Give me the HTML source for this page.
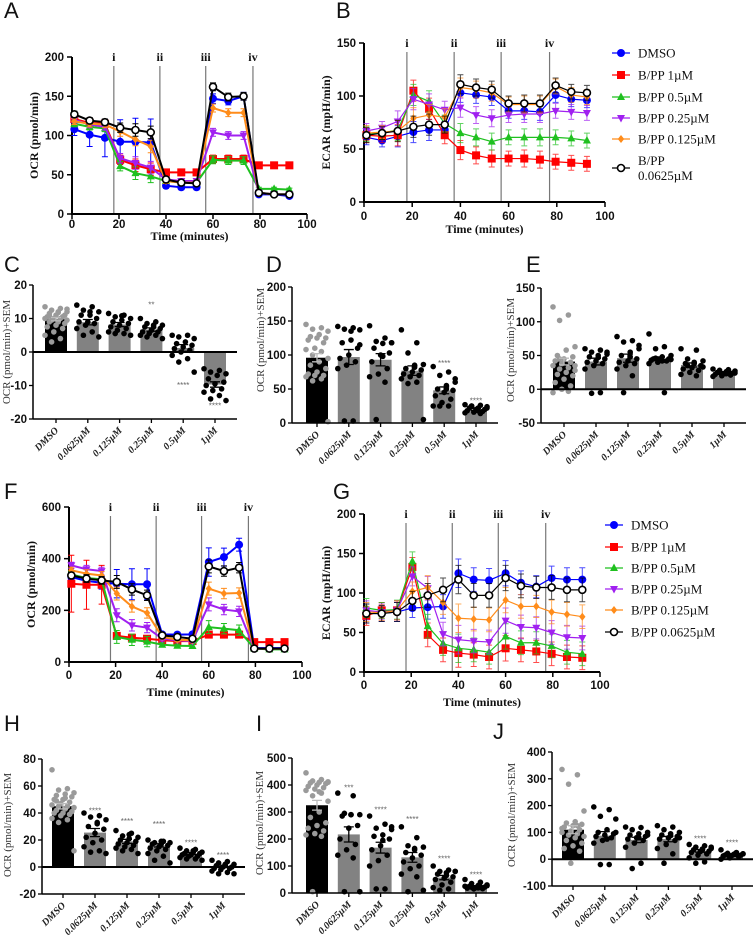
<!DOCTYPE html>
<html><head><meta charset="utf-8"><title>Seahorse OCR/ECAR figure</title>
<style>
html,body{margin:0;padding:0;background:#fff;}
svg{display:block;}
.tk{font-family:"Liberation Sans Narrow","Liberation Sans",sans-serif;font-weight:bold;font-size:11.5px;fill:#111;}
.ttl{font-family:"Liberation Serif",serif;font-weight:bold;font-size:12px;fill:#111;}
.ytl{font-family:"Liberation Serif",serif;font-size:11px;fill:#333;}
.cat{font-family:"Liberation Serif",serif;font-weight:bold;font-style:italic;font-size:10px;fill:#222;}
.lbl{font-family:"Liberation Sans",sans-serif;font-size:22px;fill:#111;}
.leg{font-family:"Liberation Serif",serif;font-size:13px;fill:#111;}
.rom{font-family:"Liberation Serif",serif;font-weight:bold;font-size:12px;fill:#111;}
.star{font-family:"Liberation Sans",sans-serif;font-size:8px;fill:#666;}
</style></head>
<body>
<svg id="fig" width="756" height="937" viewBox="0 0 756 937" xmlns="http://www.w3.org/2000/svg"></svg>
<script>
// ---------- shared categories ----------
const times = [1,7.5,14,20.5,27,33.5,40,46.5,53,60,66.5,73,79.5,86,92.5];
const injections = [17.8,37.4,56.9,77];
const injectionLabels = ['i','ii','iii','iv'];
const xTicks = [0,20,40,60,80,100];
const seriesNames = ['DMSO','B/PP 1\u00b5M','B/PP 0.5\u00b5M','B/PP 0.25\u00b5M','B/PP 0.125\u00b5M','B/PP 0.0625\u00b5M'];
const barCats = ['DMSO','0.0625\u00b5M','0.125\u00b5M','0.25\u00b5M','0.5\u00b5M','1\u00b5M'];

// ---------- Panel A (OCR) ----------
const aTicks = [0,50,100,150,200];
const aDMSO = [108,101,97,92,92,91,36,34,34,147,144,150,25,25,23];
const a1uM = [121,116,115,69,62,57,53,53,53,70,70,70,62,62,62];
const a05uM = [115,111,109,61,52,48,42,40,40,69,68,68,32,32,31];
const a025uM = [120,114,111,71,65,59,44,42,42,104,100,100,27,25,25];
const a0125uM = [118,115,114,105,95,86,42,40,40,135,129,129,27,25,25];
const a00625uM = [127,119,117,110,107,104,44,40,39,162,149,150,27,25,25];
const aErrDMSO = [8,15,24,28,30,30,3,3,3,6,5,5,2,2,2];
const aErrOther = [4,4,4,6,8,8,3,3,3,5,5,5,2,2,2];

// ---------- Panel B (ECAR) ----------
const bTicks = [0,50,100,150];
const bDMSO = [61,58,62,66,68,68,103,101,99,86,86,85,101,97,96];
const b1uM = [63,62,63,105,88,63,49,44,41,41,41,40,38,37,36];
const b05uM = [64,65,68,101,95,74,65,61,57,61,61,61,61,60,58];
const b025uM = [67,70,76,97,92,87,89,82,79,82,83,83,86,85,84];
const b0125uM = [65,66,67,79,82,80,108,106,103,92,92,92,109,101,99];
const b00625uM = [63,65,67,71,73,73,111,108,106,93,93,93,110,104,103];
const bErr = [7,6,10,10,10,8,9,8,8,7,8,8,7,7,7];

// ---------- Panel F (OCR) ----------
const fTicks = [0,200,400,600];
const fDMSO = [329,314,307,303,301,301,107,106,107,387,406,454,54,54,54];
const f1uM = [303,299,299,101,94,90,84,81,81,106,106,106,77,77,77];
const f05uM = [339,325,320,97,86,79,67,63,62,135,129,123,52,49,49];
const f025uM = [374,359,352,181,142,133,90,84,81,223,203,196,52,52,52];
const f0125uM = [355,342,335,265,215,190,97,86,84,284,265,267,52,52,52];
const f00625uM = [335,323,316,310,281,258,103,97,90,370,352,365,52,52,52];
const fErrDMSO = [15,20,25,55,60,60,8,6,8,55,35,25,5,5,5];
const fErr1uM = [110,95,75,10,8,8,6,6,6,8,8,8,5,5,5];
const fErrOther = [12,15,15,25,22,20,8,6,6,25,20,20,5,5,5];

// ---------- Panel G (ECAR) ----------
const gTicks = [0,50,100,150,200];
const gDMSO = [74,74,76,81,82,83,125,117,116,125,113,108,119,117,117];
const g1uM = [71,78,78,133,47,28,24,22,19,30,28,26,23,19,18];
const g05uM = [81,78,79,140,58,36,30,28,25,45,37,37,33,25,23];
const g025uM = [78,76,78,121,106,48,41,39,38,65,57,56,50,44,43];
const g0125uM = [76,75,78,102,107,88,68,67,66,91,83,83,76,73,70];
const g00625uM = [74,74,76,90,97,104,117,97,97,119,109,107,107,104,104];
const gErr = [12,10,12,12,15,15,18,15,15,16,15,14,15,15,15];

// ---------- Panel C ----------
const cTicks = [-20,-10,0,10,20];
const cBars = [9.8,8.9,8.2,6.7,1.2,-9.7];
const cSem = [0.5,0.8,0.6,0.5,1.0,0.8];
const cDots0 = [13.5,13,12.5,12,12,11.5,11,11,10.5,10.5,10,10,10,9.5,9.5,9,9,8.5,8,7.5,7,6,5,4,3,12.8,11.8,10.8];
const cDots1 = [14,13.5,12.5,12,11,11,10,9,9,8.5,8,7,6,5,4.5,12];
const cDots2 = [11.5,11,10.5,10,9.5,9,8.5,8,7.5,7,6.5,6,5.5,5.5,5,10.8];
const cDots3 = [10,9,8.5,8,7.5,7.5,7,6.5,6,6,5.5,5,5,4.5,4,8];
const cDots4 = [5,5,4.5,4,3,2.5,2,1.5,1,0.5,0,-1,-2,-3,-6];
const cDots5 = [-5,-5.5,-6,-6.5,-7,-8,-9,-9.5,-10,-11,-11.5,-12,-13,-14,-14.5];
const cStars = ['','','','**','****','****'];
const cStarVals = [0,0,0,14.2,-9.8,-16];

// ---------- Panel D ----------
const dTicks = [0,50,100,150,200];
const dBars = [96,97,93,77,48,20];
const dSem = [6,11,9,7,5,1.5];
const dDots0 = [145,140,138,135,130,127,125,125,122,118,110,108,105,100,95,90,85,80,75,72,70,70,68,65,62,2];
const dDots1 = [142,140,138,137,122,118,110,100,95,90,85,80,3,3,115,135];
const dDots2 = [143,125,120,118,117,110,103,100,90,80,72,68,60,5,118,98];
const dDots3 = [137,118,103,86,82,80,78,75,72,70,68,65,60,58,5,85];
const dDots4 = [83,75,70,65,55,50,48,45,40,35,30,25,25,25,60,50];
const dDots5 = [27,26,25,24,22,22,20,20,18,17,16,15,14,25,22,18];
const dStars = ['','','','','****','****'];
const dStarVals = [0,0,0,0,88,33];

// ---------- Panel E ----------
const eTicks = [-50,0,50,100,150];
const eBars = [41,41,46,44,36,25];
const eSem = [5,5,6,4,3,1];
const eDots0 = [122,110,102,63,58,50,48,45,42,40,38,35,32,30,28,25,22,20,15,10,5,0,-5,-3,45,35];
const eDots1 = [60,58,55,52,50,48,45,42,40,38,35,30,-5,-6,55,47];
const eDots2 = [78,72,70,60,55,50,45,42,40,38,35,30,20,-5,65,48];
const eDots3 = [82,63,60,50,48,45,45,44,43,42,40,38,-5,46,44,42];
const eDots4 = [60,58,45,42,40,38,35,32,30,28,25,22,20,35,33,38];
const eDots5 = [30,29,28,27,26,25,24,23,22,21,20,19,26,25,24,23];
const eStars = ['','','','','',''];
const eStarVals = [0,0,0,0,0,0];

// ---------- Panel H ----------
const hTicks = [-20,0,20,40,60,80];
const hBars = [45,25.5,19,16,10,0.5];
const hSem = [2,3,1.5,1.2,0.8,0.8];
const hDots0 = [72,58,57,55,54,53,52,50,50,48,47,46,45,45,44,43,42,41,40,40,39,38,36,35,33,12,51,49];
const hDots1 = [40,38,37,35,32,30,28,25,22,20,18,15,12,11,10,33];
const hDots2 = [27,25,23,22,21,20,19,18,17,16,15,14,13,12,10,24];
const hDots3 = [20,19,18,18,17,17,16,15,14,13,12,10,8,5,3,19];
const hDots4 = [14,13,12,11,11,10,10,9,9,8,8,7,6,6,5,12];
const hDots5 = [5,4,3,2,1,1,0,0,-1,-1,-2,-3,-4,-5,-5,2];
const hStars = ['','****','****','****','****','****'];
const hStarVals = [0,42,34,32,18,9];

// ---------- Panel I ----------
const iTicks = [0,100,200,300,400,500];
const iBars = [325,217,168,132,57,24];
const iSem = [18,28,20,18,8,3];
const iDots0 = [445,420,415,412,410,408,405,400,395,390,385,380,370,360,340,300,280,260,250,240,230,220,215,210,5,410,375];
const iDots1 = [370,360,295,290,290,285,250,240,200,180,160,140,130,5,5,290];
const iDots2 = [285,255,240,235,215,210,200,175,160,140,120,100,15,15,245,195];
const iDots3 = [245,205,175,170,165,150,140,130,115,100,90,70,60,5,10,160];
const iDots4 = [100,85,80,80,75,70,60,55,50,40,30,20,15,10,80,65];
const iDots5 = [50,40,35,30,28,25,22,20,18,16,15,25,23,21,27,19];
const iStars = ['','***','****','****','****','****'];
const iStarVals = [0,390,310,275,128,68];

// ---------- Panel J ----------
const jTicks = [-100,0,100,200,300,400];
const jBars = [110,88,72,75,31,17];
const jSem = [15,15,10,10,5,3];
const jDots0 = [335,315,280,180,140,135,130,125,120,110,105,100,95,90,85,80,70,60,50,40,30,-15,115,125];
const jDots1 = [195,185,160,150,110,100,95,90,85,80,70,60,-20,-20,100,75];
const jDots2 = [120,118,110,100,95,90,85,80,75,70,60,45,-15,-35,90,80];
const jDots3 = [125,120,110,100,95,90,85,80,75,70,55,40,20,-15,80,88];
const jDots4 = [55,50,45,40,38,35,30,28,25,20,15,5,-10,-15,45,35];
const jDots5 = [35,25,22,20,18,16,15,14,12,10,5,0,18,17,20,19];
const jStars = ['','','','','****','****'];
const jStarVals = [0,0,0,0,78,62];

// ---------- drawing helpers ----------
const NS = 'http://www.w3.org/2000/svg';
const svg = document.getElementById('fig');
function mk(tag, attrs, parent){
  const e = document.createElementNS(NS, tag);
  for (const k in attrs) e.setAttribute(k, attrs[k]);
  (parent || svg).appendChild(e);
  return e;
}
function txt(s, attrs, parent){ const e = mk('text', attrs, parent); e.textContent = s; return e; }

const styles = [
  {color:'#0000ff', shape:'circle'},
  {color:'#ff0000', shape:'square'},
  {color:'#1fc01f', shape:'tri'},
  {color:'#a020f0', shape:'tridown'},
  {color:'#ff8c1a', shape:'diamond'},
  {color:'#000000', shape:'open'}
];

function marker(g, shape, x, y, color, s){
  let m;
  if (shape === 'circle') m = mk('circle', {cx:x, cy:y, r:s, fill:color}, g);
  else if (shape === 'open') m = mk('circle', {cx:x, cy:y, r:s-0.5, fill:'#fff', stroke:color, 'stroke-width':1.6}, g);
  else if (shape === 'square') m = mk('rect', {x:x-s, y:y-s, width:2*s, height:2*s, fill:color}, g);
  else if (shape === 'tri') m = mk('polygon', {points:`${x},${y-s-0.5} ${x-s},${y+s-1} ${x+s},${y+s-1}`, fill:color}, g);
  else if (shape === 'tridown') m = mk('polygon', {points:`${x},${y+s+0.5} ${x-s},${y-s+1} ${x+s},${y-s+1}`, fill:color}, g);
  else m = mk('polygon', {points:`${x},${y-s} ${x+s*0.8},${y} ${x},${y+s} ${x-s*0.8},${y}`, fill:color}, g);
  
  
  return m;
}

function panelLetter(s, x, y){
  const t = txt(s, {x:x, y:y, class:'lbl'});
  
  
}

function lineChart(cfg, yTicks, series){
  const g = mk('g', {});
  
  
  const sx = t => cfg.xL + t * (cfg.xR - cfg.xL) / 100;
  const sy = v => cfg.yB - v * (cfg.yB - cfg.yT) / cfg.ymax;
  injections.forEach((t, i) => {
    const l = mk('line', {x1:sx(t), x2:sx(t), y1:cfg.yT+9, y2:cfg.yB, stroke:'#777', 'stroke-width':1.2}, g);
    
    
    const r = txt(injectionLabels[i], {x:sx(t), y:cfg.yT+4, 'text-anchor':'middle', class:'rom'}, g);
    
    
  });
  const ya = mk('line', {x1:cfg.xL, x2:cfg.xL, y1:cfg.yT, y2:cfg.yB+1, stroke:'#000', 'stroke-width':2}, g);
  
  
  const xa = mk('line', {x1:cfg.xL-1, x2:cfg.xR, y1:cfg.yB, y2:cfg.yB, stroke:'#000', 'stroke-width':2}, g);
  
  
  yTicks.forEach(v => {
    const tk = mk('line', {x1:cfg.xL-5, x2:cfg.xL, y1:sy(v), y2:sy(v), stroke:'#000', 'stroke-width':1.5}, g);
    
    
    const tl = txt(String(v), {x:cfg.xL-8, y:sy(v)+4, 'text-anchor':'end', class:'tk'}, g);
    
    
  });
  xTicks.forEach(v => {
    const tk = mk('line', {x1:sx(v), x2:sx(v), y1:cfg.yB, y2:cfg.yB+5, stroke:'#000', 'stroke-width':1.5}, g);
    
    
    const tl = txt(String(v), {x:sx(v), y:cfg.yB+cfg.tickDy, 'text-anchor':'middle', class:'tk'}, g);
    
    
  });
  const xt = txt('Time (minutes)', {x:(cfg.xL+cfg.xR)/2, y:cfg.yB+cfg.titleDy, 'text-anchor':'middle', class:'ttl'}, g);
  
  
  const cy = (cfg.yT + cfg.yB) / 2;
  const yt = txt(cfg.yTitle, {x:cfg.yTitleX, y:cy, 'text-anchor':'middle', class:'ttl', transform:`rotate(-90 ${cfg.yTitleX} ${cy})`}, g);
  
  
  series.forEach((s, si) => {
    const st = styles[si];
    const sg = mk('g', {}, g);
    
    
    const err = s.err || null;
    if (err){
      s.vals.forEach((v, i) => {
        const x = sx(times[i]);
        const eb = mk('path', {d:`M${x},${sy(v-err[i])}V${sy(v+err[i])}M${x-3},${sy(v+err[i])}H${x+3}M${x-3},${sy(v-err[i])}H${x+3}`, stroke:st.color, 'stroke-width':1, fill:'none', opacity:cfg.errOp}, sg);
        
        
      });
    }
    const d = s.vals.map((v, i) => (i ? 'L' : 'M') + sx(times[i]) + ',' + sy(v)).join('');
    const p = mk('path', {d:d, stroke:st.color, 'stroke-width':cfg.lw, fill:'none'}, sg);
    
    
    s.vals.forEach((v, i) => marker(sg, st.shape, sx(times[i]), sy(v), st.color, cfg.ms));
  });
}

function legend(x, ys, twoLine, name){
  const g = mk('g', {});
  
  
  seriesNames.forEach((n, i) => {
    const st = styles[i];
    const eg = mk('g', {}, g);
    
    
    const l = mk('line', {x1:x-9, x2:x+9, y1:ys[i], y2:ys[i], stroke:st.color, 'stroke-width':1.2}, eg);
    
    
    marker(eg, st.shape, x, ys[i], st.color, 4);
    if (twoLine && i === 5){
      const t1 = txt('B/PP', {x:x+17, y:ys[i]-3, class:'leg'}, eg);
      
      
      const t2 = txt('0.0625\u00b5M', {x:x+17, y:ys[i]+12, class:'leg'}, eg);
      
      
    } else {
      const t = txt(n, {x:x+17, y:ys[i]+4.5, class:'leg'}, eg);
      
      
    }
  });
}

function barChart(cfg, ticks, bars, sem, dots, stars, starVals){
  const g = mk('g', {});
  
  
  const vmin = ticks[0], vmax = ticks[ticks.length-1];
  const sy = v => cfg.yB - (v - vmin) / (vmax - vmin) * (cfg.yB - cfg.yT);
  const n = bars.length;
  const step = (cfg.cLast - cfg.cFirst) / (n - 1);
  const cx = i => cfg.cFirst + i * step;
  bars.forEach((v, i) => {
    const y0 = sy(0), y1 = sy(v);
    const r = mk('rect', {x:cx(i)-11, y:Math.min(y0,y1), width:22, height:Math.abs(y0-y1), fill:i===0?'#000':'#828282'}, g);
    
    
  });
  dots.forEach((arr, i) => {
    arr.forEach((v, k) => {
      const off = (((k * 7) % 11) - 5) * 2.2;
      const c = mk('circle', {cx:cx(i)+off, cy:sy(v), r:2.8, fill:i===0?'#9a9a9a':'#000'}, g);
      
      
    });
  });
  bars.forEach((v, i) => {
    const x = cx(i), a = sy(v-sem[i]), b = sy(v+sem[i]);
    const e = mk('path', {d:`M${x},${a}V${b}M${x-5},${a}H${x+5}M${x-5},${b}H${x+5}`, stroke:i===0?'#bbb':'#000', 'stroke-width':1.3, fill:'none'}, g);
    
    
    if (stars[i]){
      const s = txt(stars[i], {x:x, y:sy(starVals[i])+3, 'text-anchor':'middle', class:'star'}, g);
      
      
    }
  });
  const ya = mk('line', {x1:cfg.axX, x2:cfg.axX, y1:cfg.yT, y2:cfg.yB, stroke:'#000', 'stroke-width':1.5}, g);
  
  
  const xa = mk('line', {x1:cfg.axX, x2:cfg.axEnd, y1:cfg.yB, y2:cfg.yB, stroke:'#000', 'stroke-width':1.5}, g);
  
  
  if (vmin < 0){
    const z = mk('line', {x1:cfg.axX, x2:cfg.axEnd, y1:sy(0), y2:sy(0), stroke:'#000', 'stroke-width':2}, g);
    
    
  }
  ticks.forEach(v => {
    const tk = mk('line', {x1:cfg.axX-4, x2:cfg.axX, y1:sy(v), y2:sy(v), stroke:'#000', 'stroke-width':1.3}, g);
    
    
    const tl = txt(String(v), {x:cfg.axX-6, y:sy(v)+4, 'text-anchor':'end', class:'tk'}, g);
    
    
  });
  barCats.forEach((c, i) => {
    const x = cx(i);
    const tk = mk('line', {x1:x, x2:x, y1:cfg.yB, y2:cfg.yB+4, stroke:'#000', 'stroke-width':1.3}, g);
    
    
    const tx = x + 3, ty = cfg.yB + 12;
    const tl = txt(c, {x:tx, y:ty, 'text-anchor':'end', class:'cat', transform:`rotate(-45 ${tx} ${ty})`}, g);
    
    
  });
  const yt = txt('OCR (pmol/min)+SEM', {x:cfg.titleX, y:cfg.titleY, 'text-anchor':'middle', class:'ytl', transform:`rotate(-90 ${cfg.titleX} ${cfg.titleY})`}, g);
  
  
}

// ---------- render ----------
panelLetter('A', 4, 18); panelLetter('B', 336, 18);
panelLetter('C', 4, 272); panelLetter('D', 266, 272); panelLetter('E', 526, 272);
panelLetter('F', 4, 499); panelLetter('G', 333, 499);
panelLetter('H', 4, 731); panelLetter('I', 256, 731); panelLetter('J', 493, 739);

lineChart({name:'chart-a-ocr', xL:72, xR:307, yB:214, yT:57, ymax:200, lw:2, ms:4, errOp:1, tickDy:14, titleDy:26, yTitle:'OCR (pmol/min)', yTitleX:38},
  aTicks, [{vals:aDMSO, err:aErrDMSO},{vals:a1uM, err:aErrOther},{vals:a05uM, err:aErrOther},{vals:a025uM, err:aErrOther},{vals:a0125uM, err:aErrOther},{vals:a00625uM, err:aErrOther}]);
lineChart({name:'chart-b-ecar', xL:364, xR:605, yB:202, yT:43, ymax:150, lw:1.2, ms:4, errOp:0.7, tickDy:18, titleDy:31, yTitle:'ECAR (mpH/min)', yTitleX:330},
  bTicks, [{vals:bDMSO, err:bErr},{vals:b1uM, err:bErr},{vals:b05uM, err:bErr},{vals:b025uM, err:bErr},{vals:b0125uM, err:bErr},{vals:b00625uM, err:bErr}]);
legend(621, [53,75,97,118,139,168], true, 'legend-b');

barChart({name:'chart-c', axX:33, axEnd:237, yB:419, yT:285, cFirst:56, cLast:215, titleX:10, titleY:352}, cTicks, cBars, cSem, [cDots0,cDots1,cDots2,cDots3,cDots4,cDots5], cStars, cStarVals);
barChart({name:'chart-d', axX:292, axEnd:498, yB:423, yT:287, cFirst:317, cLast:476, titleX:264, titleY:340}, dTicks, dBars, dSem, [dDots0,dDots1,dDots2,dDots3,dDots4,dDots5], dStars, dStarVals);
barChart({name:'chart-e', axX:541, axEnd:746, yB:423, yT:288, cFirst:564, cLast:724, titleX:514, titleY:350}, eTicks, eBars, eSem, [eDots0,eDots1,eDots2,eDots3,eDots4,eDots5], eStars, eStarVals);

lineChart({name:'chart-f-ocr', xL:69, xR:302, yB:662, yT:507, ymax:600, lw:2, ms:4, errOp:1, tickDy:17, titleDy:34, yTitle:'OCR (pmol/min)', yTitleX:35},
  fTicks, [{vals:fDMSO, err:fErrDMSO},{vals:f1uM, err:fErr1uM},{vals:f05uM, err:fErrOther},{vals:f025uM, err:fErrOther},{vals:f0125uM, err:fErrOther},{vals:f00625uM, err:fErrOther}]);
lineChart({name:'chart-g-ecar', xL:364, xR:600, yB:672, yT:514, ymax:200, lw:1.2, ms:4, errOp:0.7, tickDy:17, titleDy:34, yTitle:'ECAR (mpH/min)', yTitleX:330},
  gTicks, [{vals:gDMSO, err:gErr},{vals:g1uM, err:gErr},{vals:g05uM, err:gErr},{vals:g025uM, err:gErr},{vals:g0125uM, err:gErr},{vals:g00625uM, err:gErr}]);
legend(614, [525,547,568,589,610,632], false, 'legend-g');

barChart({name:'chart-h', axX:42, axEnd:245, yB:894, yT:759, cFirst:63, cLast:223, titleX:11, titleY:825}, hTicks, hBars, hSem, [hDots0,hDots1,hDots2,hDots3,hDots4,hDots5], hStars, hStarVals);
barChart({name:'chart-i', axX:292, axEnd:498, yB:893, yT:758, cFirst:317, cLast:476, titleX:263, titleY:823}, iTicks, iBars, iSem, [iDots0,iDots1,iDots2,iDots3,iDots4,iDots5], iStars, iStarVals);
barChart({name:'chart-j', axX:552, axEnd:753, yB:886, yT:752, cFirst:573, cLast:732, titleX:515, titleY:815}, jTicks, jBars, jSem, [jDots0,jDots1,jDots2,jDots3,jDots4,jDots5], jStars, jStarVals);
</script>
</body></html>
